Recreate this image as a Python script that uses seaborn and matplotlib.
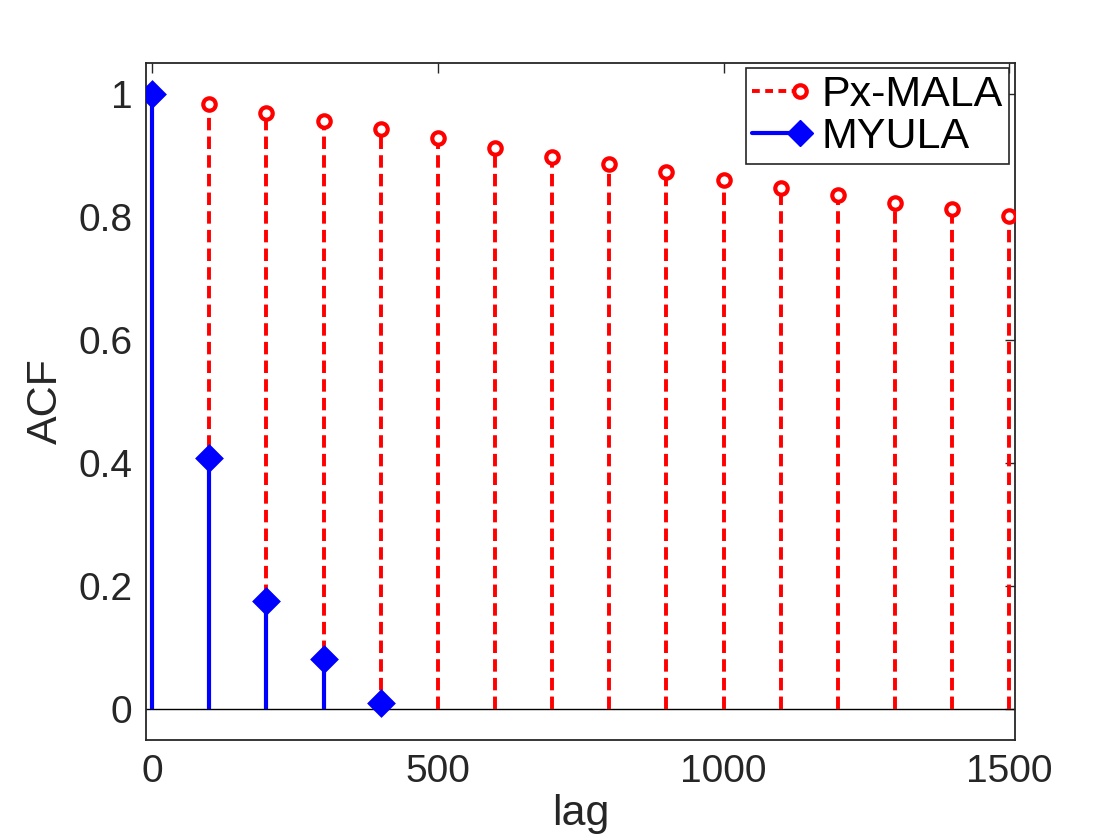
import numpy as np
import pandas as pd
import matplotlib
matplotlib.use("Agg")
import matplotlib.pyplot as plt
from matplotlib.lines import Line2D
from matplotlib.legend_handler import HandlerLine2D
import seaborn as sns

# ACF values (lag step 100)
lags_mala = [0, 100, 200, 300, 400, 500, 600, 700, 800, 900, 1000, 1100, 1200, 1300, 1400, 1500]
acf_mala = [1.0, 0.984, 0.968, 0.955, 0.942, 0.928, 0.912, 0.898, 0.886, 0.873, 0.860, 0.847, 0.835, 0.823, 0.812, 0.802]
lags_myula = [0, 100, 200, 300, 400]
acf_myula = [1.0, 0.409, 0.176, 0.081, 0.010]

xticks = [0, 500, 1000, 1500]
yticks = [0, 0.2, 0.4, 0.6, 0.8, 1]

mala = pd.DataFrame({'lag': lags_mala, 'acf': acf_mala})
myula = pd.DataFrame({'lag': lags_myula, 'acf': acf_myula})


class EndMarkerHandler(HandlerLine2D):
    # matlab-style legend entry: line with a single marker at its right end
    def create_artists(self, legend, orig_handle, xdescent, ydescent, width, height, fontsize, trans):
        artists = super().create_artists(legend, orig_handle, xdescent, ydescent,
                                         width, height, fontsize, trans)
        if len(artists) == 2:
            line, mark = artists
            mark.set_data([line.get_xdata()[-1]], [line.get_ydata()[-1]])
        else:
            line = artists[0]
            line.set_markevery([len(line.get_xdata()) - 1])
        return artists


sns.set_style("white")
plt.rcParams['font.family'] = ['Liberation Sans', 'DejaVu Sans']
gray = '#262626'

fig = plt.figure(figsize=(11.2, 8.4), dpi=100)
ax = fig.add_axes([0.1308, 0.119, 0.7755, 0.806])

# baseline
ax.axhline(0, color='black', lw=1, zorder=1)

# Px-MALA stems
ax.vlines(mala['lag'], 0, mala['acf'], colors='red', linestyles=(0, (3.2, 1.6)), lw=2.8, zorder=2)
sns.scatterplot(data=mala, x='lag', y='acf', marker='o', s=80, facecolor='white',
                edgecolor='red', linewidth=3, ax=ax, zorder=3, legend=False)

# MYULA stems
ax.vlines(myula['lag'], 0, myula['acf'], colors='blue', lw=3, zorder=4)
sns.scatterplot(data=myula, x='lag', y='acf', marker='D', s=200, color='blue',
                edgecolor='blue', linewidth=0.5, ax=ax, zorder=5, legend=False)

ax.set_xlim(-10, 1510)
ax.set_ylim(-0.05, 1.05)
ax.set_xticks(xticks)
ax.set_yticks(yticks)
ax.set_yticklabels(['0', '0.2', '0.4', '0.6', '0.8', '1'])
ax.tick_params(direction='in', length=7, width=1, top=True, right=True,
               labelsize=28, colors=gray, pad=10)
for sp in ax.spines.values():
    sp.set_color(gray)
    sp.set_linewidth(1.3)

ax.set_xlabel('lag', fontsize=31, color=gray, labelpad=3)
ax.set_ylabel('ACF', fontsize=31, color=gray, labelpad=9)

h_mala = Line2D([0, 1], [0, 0], color='red', ls=(0, (2, 1.4)), lw=2.8, marker='o', markersize=9,
                markerfacecolor='white', markeredgecolor='red', markeredgewidth=3)
h_myula = Line2D([0, 1], [0, 0], color='blue', lw=3, marker='D', markersize=13,
                 markerfacecolor='blue', markeredgecolor='blue')
leg = ax.legend([h_mala, h_myula], ['Px-MALA', 'MYULA'], loc='upper right', fontsize=31,
                handler_map={Line2D: EndMarkerHandler(numpoints=2, marker_pad=0)},
                handlelength=1.1, handletextpad=0.5, borderpad=0.15, borderaxespad=0,
                labelspacing=0.06, fancybox=False, framealpha=1, labelcolor='black',
                bbox_to_anchor=(0.993, 0.992))
leg.get_frame().set_edgecolor(gray)
leg.get_frame().set_linewidth(1.2)

fig.savefig('out.png', dpi=100, facecolor='white')
